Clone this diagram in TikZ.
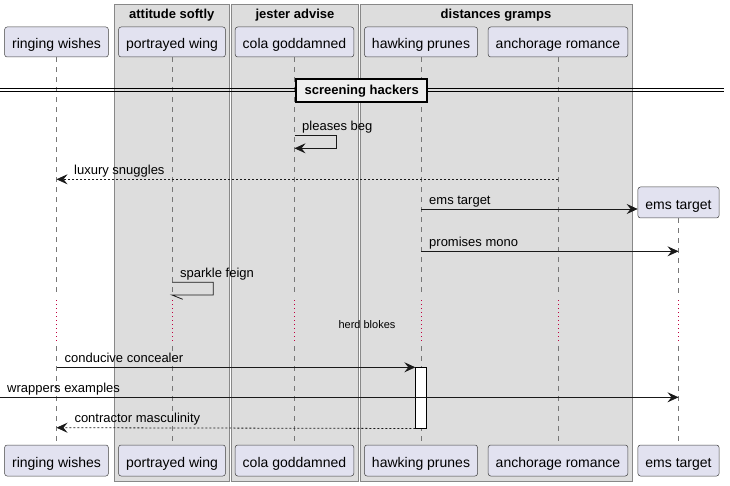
\documentclass[tikz,border=0pt]{standalone}
\usepackage{fontspec}
\setmainfont{Liberation Sans}
\usetikzlibrary{arrows.meta}
\definecolor{partfill}{HTML}{E2E2F0}
\definecolor{grpfill}{HTML}{DDDDDD}
\definecolor{grpline}{HTML}{888888}
\definecolor{lifec}{HTML}{777777}
\definecolor{delayc}{HTML}{C0003F}
\definecolor{sepfill}{HTML}{EEEEEE}
\begin{document}
\begin{tikzpicture}[x=1pt,y=-1pt,
  part/.style={draw=black!75, line width=0.5pt, fill=partfill, rounded corners=2.5pt, minimum height=30pt, inner xsep=7.5pt, inner ysep=0pt, text height=16.6pt, text depth=3pt, font=\fontsize{14}{16}\selectfont},
  msg/.style={-{Stealth[length=11pt,width=10pt,inset=4pt]}, line width=0.8pt, draw=black!90},
  ret/.style={msg, dash pattern=on 2pt off 2pt},
  lbl/.style={anchor=base west, inner sep=0pt, font=\fontsize{13}{15}\selectfont},
  life/.style={draw=lifec, line width=0.5pt, dash pattern=on 5pt off 5pt},
  dly/.style={draw=delayc, line width=0.8pt, dash pattern=on 1pt off 3pt},
  grp/.style={draw=grpline, fill=grpfill, line width=1pt},
  grptitle/.style={font=\bfseries\fontsize{13}{15}\selectfont, inner sep=0pt}]
\useasboundingbox (0,0) rectangle (730,486);
% groups
\draw[grp] (114,5) rectangle (229.5,481);
\draw[grp] (231.5,5) rectangle (358.5,481);
\draw[grp] (360,5) rectangle (632,481);
\node[grptitle] (g1) at (171.75,15) {attitude softly};
\node[grptitle] (g2) at (295,15) {jester advise};
\node[grptitle] (g3) at (496,15) {distances gramps};
% participants
\node[part] (p1) at (56.5,42) {ringing wishes};
\node[part] (p2) at (172,42) {portrayed wing};
\node[part] (p3) at (294.5,42) {cola goddamned};
\node[part] (p4) at (421,42) {hawking prunes};
\node[part] (p5) at (558,42) {anchorage romance};
\node[part, minimum height=31pt] (e) at (678.5,202.5) {ems target};
\node[part, minimum height=31pt] (q1) at (56.5,460.5) {ringing wishes};
\node[part, minimum height=31pt] (q2) at (172,460.5) {portrayed wing};
\node[part, minimum height=31pt] (q3) at (294.5,460.5) {cola goddamned};
\node[part, minimum height=31pt] (q4) at (421,460.5) {hawking prunes};
\node[part, minimum height=31pt] (q5) at (558,460.5) {anchorage romance};
\node[part, minimum height=31pt] (q6) at (678.5,460.5) {ems target};
% delay coordinates
\coordinate (dtop) at (0,297);
\coordinate (dtop2) at (0,300);
\coordinate (dbot2) at (0,343);
\coordinate (dbot) at (0,346);
% lifelines
\foreach \i in {1,...,5}{
  \draw[life] (p\i.south) -- (p\i |- dtop);
  \draw[dly] (p\i |- dtop2) -- (p\i |- dbot2);
  \draw[life] (p\i |- dbot) -- (q\i.north);
}
\draw[life] (e.south) -- (e |- dtop);
\draw[dly] (e |- dtop2) -- (e |- dbot2);
\draw[life] (e |- dbot) -- (q6.north);
% separator
\coordinate (s1a) at (0,88.5); \coordinate (s1b) at (724,88.5);
\coordinate (s2a) at (0,91.5); \coordinate (s2b) at (724,91.5);
\draw[line width=1pt] (s1a) -- (s1b);
\draw[line width=1pt] (s2a) -- (s2b);
\node[draw=black, line width=2pt, fill=sepfill, minimum width=131pt, minimum height=23pt, inner sep=0pt, font=\bfseries\fontsize{13}{15}\selectfont] (sep) at (361.7,90.8) {screening hackers};
% message y coordinates
\coordinate (ypb1) at (0,135);
\coordinate (ypb2) at (0,148.3);
\coordinate (yls) at (0,179.3);
\coordinate (yet) at (0,209);
\coordinate (ypm) at (0,251.3);
\coordinate (ysf1) at (0,282.3);
\coordinate (ysf2) at (0,295);
\coordinate (ycc) at (0,367.3);
\coordinate (yw) at (0,397.3);
\coordinate (ycm) at (0,427.7);
% pleases beg
\draw[msg] (p3 |- ypb1) -- ++(42,0) |- (p3 |- ypb2);
\node[lbl] (l1) at (302,131) {pleases beg};
% luxury snuggles
\draw[ret] (p5 |- yls) -- (p1 |- yls);
\node[lbl] (l2) at (74,174.3) {luxury snuggles};
% ems target
\draw[msg] (p4 |- yet) -- (e.west |- yet);
\node[lbl] (l3) at (429,204.5) {ems target};
% promises mono
\draw[msg] (p4 |- ypm) -- (e |- ypm);
\node[lbl] (l4) at (429,246.5) {promises mono};
% sparkle feign
\draw[line width=0.8pt, black!90] (p2 |- ysf1) -- ++(41.3,0) |- (p2 |- ysf2) -- ++(10.7,4.3);
\node[lbl] (l5) at (180,277.5) {sparkle feign};
% delay text
\node[inner sep=0pt, font=\fontsize{11}{13}\selectfont] (hb) at (367,325) {herd blokes};
% activation
\node[draw=black, line width=0.8pt, fill=white, minimum width=10.5pt, minimum height=60.4pt, inner sep=0pt, anchor=north] (act) at (p4 |- ycc) {};
% conducive concealer
\draw[msg] (p1 |- ycc) -- (act.north west);
\node[lbl] (l6) at (64.5,362.5) {conducive concealer};
% wrappers examples
\coordinate (wstart) at (0,397.3);
\draw[msg] (wstart) -- (e |- yw);
\node[lbl] (l7) at (7,392.3) {wrappers examples};
% contractor masculinity
\draw[ret] (act.south west) -- (p1 |- ycm);
\node[lbl] (l8) at (74.3,422.7) {contractor masculinity};
\end{tikzpicture}
\end{document}
